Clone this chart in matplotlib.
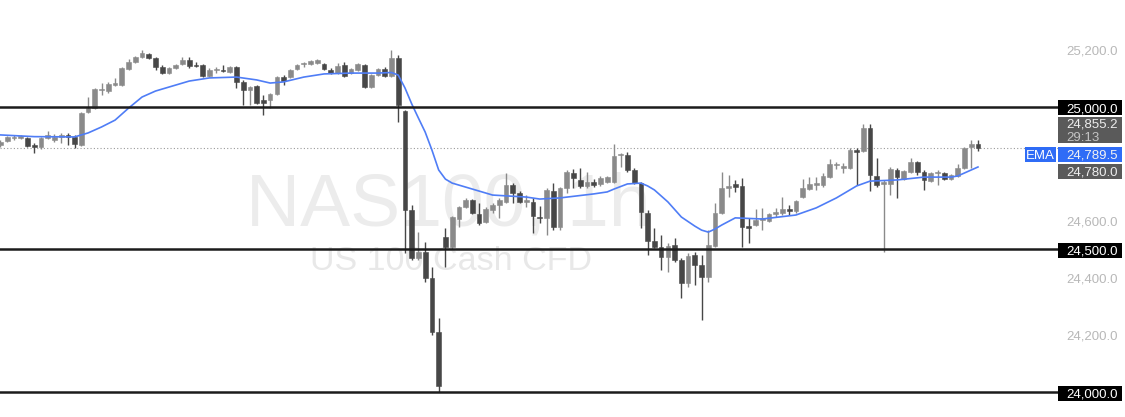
import matplotlib
matplotlib.use("Agg")
import matplotlib.pyplot as plt
from matplotlib.patches import Rectangle

# OHLC, one hourly candle per entry
opens = [24867, 24881, 24891, 24891, 24891, 24867, 24860, 24891, 24884, 24895,
         24902, 24895, 24867, 24982, 24996, 25058, 25056, 25077, 25077, 25133,
         25158, 25175, 25186, 25172, 25140, 25119, 25137, 25151, 25165, 25147,
         25147, 25109, 25130, 25130, 25123, 25140, 25088, 25060, 25074, 25025,
         25025, 25046, 25105, 25105, 25133, 25150, 25151, 25154, 25151, 25130,
         25119, 25147, 25119, 25130, 25147, 25070, 25112, 25133, 25109, 25172,
         24986, 24639, 24470, 24491, 24400, 24210, 24544, 24509, 24607, 24649,
         24674, 24625, 24596, 24639, 24656, 24667, 24726, 24698, 24667, 24667,
         24614, 24611, 24705, 24579, 24716, 24768, 24744, 24723, 24737, 24730,
         24737, 24737, 24830, 24832, 24779, 24733, 24628, 24530, 24509, 24474,
         24516, 24463, 24382, 24481, 24446, 24404, 24512, 24628, 24716, 24730,
         24723, 24582, 24586, 24604, 24600, 24625, 24628, 24642, 24635, 24684,
         24712, 24726, 24726, 24754, 24795, 24786, 24786, 24849, 24846, 24926,
         24758, 24730, 24730, 24779, 24747, 24772, 24807, 24772, 24740, 24768,
         24768, 24747, 24758, 24786, 24860, 24870]
highs = [24884, 24898, 24902, 24902, 24895, 24874, 24895, 24916, 24905, 24909,
         24909, 24902, 24982, 25035, 25067, 25084, 25088, 25102, 25140, 25168,
         25179, 25200, 25189, 25175, 25147, 25140, 25151, 25175, 25175, 25158,
         25151, 25137, 25140, 25147, 25144, 25144, 25095, 25074, 25077, 25042,
         25049, 25109, 25112, 25133, 25151, 25158, 25165, 25168, 25154, 25137,
         25154, 25158, 25137, 25154, 25151, 25116, 25137, 25140, 25200, 25182,
         24990, 24656, 24561, 24526, 24439, 24260, 24575, 24618, 24653, 24681,
         24677, 24663, 24649, 24663, 24681, 24768, 24733, 24705, 24691, 24681,
         24653, 24716, 24733, 24719, 24779, 24782, 24786, 24772, 24747, 24758,
         24758, 24870, 24839, 24842, 24786, 24737, 24639, 24575, 24551, 24523,
         24540, 24470, 24488, 24491, 24481, 24568, 24663, 24772, 24761, 24744,
         24751, 24611, 24642, 24646, 24628, 24646, 24684, 24656, 24674, 24747,
         24754, 24754, 24768, 24818, 24807, 24803, 24856, 24856, 24940, 24940,
         24821, 24744, 24790, 24786, 24779, 24821, 24810, 24779, 24772, 24779,
         24772, 24765, 24800, 24860, 24884, 24884]
lows = [24860, 24877, 24884, 24887, 24860, 24839, 24853, 24887, 24877, 24874,
        24867, 24856, 24863, 24979, 24993, 25042, 25049, 25074, 25074, 25130,
        25154, 25172, 25168, 25130, 25116, 25116, 25133, 25147, 25137, 25140,
        25105, 25105, 25119, 25123, 25119, 25067, 25007, 25007, 25011, 24972,
        24996, 25042, 25077, 25102, 25130, 25140, 25147, 25151, 25130, 25116,
        25116, 25105, 25116, 25126, 25067, 25067, 25109, 25105, 25105, 24947,
        24488, 24463, 24463, 24386, 24200, 24000, 24439, 24502, 24579, 24646,
        24625, 24586, 24593, 24628, 24611, 24663, 24663, 24663, 24649, 24558,
        24593, 24551, 24568, 24568, 24698, 24716, 24716, 24716, 24719, 24723,
        24733, 24733, 24790, 24772, 24730, 24575, 24481, 24505, 24428, 24421,
        24456, 24330, 24368, 24375, 24253, 24386, 24509, 24625, 24684, 24702,
        24509, 24523, 24582, 24568, 24596, 24614, 24621, 24621, 24628, 24681,
        24709, 24709, 24719, 24751, 24782, 24768, 24782, 24726, 24842, 24705,
        24719, 24491, 24691, 24681, 24744, 24768, 24761, 24709, 24737, 24726,
        24744, 24744, 24754, 24782, 24786, 24846]
closes = [24877, 24895, 24895, 24898, 24863, 24860, 24891, 24902, 24895, 24902,
          24895, 24870, 24979, 24996, 25063, 25060, 25081, 25084, 25137, 25158,
          25175, 25189, 25172, 25140, 25119, 25137, 25147, 25165, 25144, 25145,
          25109, 25130, 25131, 25127, 25140, 25088, 25060, 25070, 25014, 25014,
          25046, 25105, 25091, 25130, 25147, 25152, 25161, 25165, 25133, 25119,
          25144, 25109, 25133, 25151, 25070, 25112, 25133, 25109, 25172, 25007,
          24639, 24470, 24491, 24400, 24210, 24021, 24509, 24614, 24649, 24674,
          24628, 24593, 24642, 24656, 24674, 24726, 24698, 24667, 24674, 24618,
          24611, 24709, 24579, 24716, 24772, 24751, 24723, 24737, 24726, 24751,
          24754, 24828, 24832, 24779, 24733, 24632, 24530, 24509, 24474, 24512,
          24463, 24382, 24477, 24446, 24404, 24516, 24628, 24716, 24723, 24719,
          24579, 24575, 24604, 24611, 24625, 24632, 24642, 24635, 24670, 24716,
          24730, 24733, 24758, 24800, 24797, 24793, 24849, 24842, 24926, 24761,
          24726, 24737, 24782, 24754, 24775, 24807, 24772, 24744, 24768, 24770,
          24747, 24761, 24786, 24856, 24870, 24855.2]

# EMA read at a subset of candles
ema_idx = [0, 5, 11, 13, 15, 17, 19, 21, 23, 25, 28, 31, 35, 38, 40, 42, 45, 48,
           52, 56, 58, 59, 60, 61, 62, 63, 64, 65, 66, 67, 70, 73, 78, 80, 83, 88,
           90, 91, 93, 95, 96, 97, 98, 99, 101, 103, 104, 105, 106, 107, 109, 113,
           118, 121, 124, 127, 129, 133, 137, 141, 142, 145]
ema_vals = [24902, 24896, 24895, 24909, 24930, 24954, 24996, 25035, 25056, 25070,
            25091, 25102, 25105, 25095, 25084, 25088, 25105, 25116, 25119, 25119,
            25121, 25112, 25067, 25011, 24961, 24912, 24849, 24779, 24747, 24733,
            24712, 24691, 24684, 24677, 24681, 24695, 24702, 24712, 24730, 24733,
            24723, 24709, 24688, 24667, 24614, 24582, 24568, 24561, 24572, 24586,
            24611, 24607, 24621, 24646, 24681, 24723, 24740, 24744, 24754, 24754,
            24758, 24789.5]

levels = [25000, 24500, 24000]
tick_values = [24200, 24400, 24600, 25200]
last_price = 24855.2
ema_last = 24789.5
other_price = 24780.0
countdown = "29:13"

bull_col = "#8a8a8a"
bear_col = "#474747"
W, H = 1125, 417
AX_W = 1058

fig = plt.figure(figsize=(W / 100, H / 100), dpi=100)
ax = fig.add_axes([0, 0, AX_W / W, 1])
ax.set_xlim(-0.07, 156.87)
ax.set_ylim(23912.3, 25375.4)
for s in ax.spines.values():
    s.set_visible(False)
ax.set_xticks([])

font = "Liberation Sans"
ax.yaxis.tick_right()
ax.set_yticks(tick_values)
ax.set_yticklabels([f"{v:,.1f}" for v in tick_values])
ax.tick_params(axis="y", length=0, pad=6, labelsize=9.5, labelcolor="#b8b8b8")
for lab in ax.get_yticklabels():
    lab.set_fontfamily(font)

# watermark
ax.text(0.424, 0.4604, "NAS100, 1h", transform=ax.transAxes, ha="center",
        va="baseline", fontsize=54, color="#ececec", family=font, zorder=0)
ax.text(0.426, 0.3525, "US 100 Cash CFD", transform=ax.transAxes, ha="center",
        va="baseline", fontsize=24.5, color="#e8e8e8", family=font, zorder=0)

# candles
idx = list(range(len(opens)))
for i in idx:
    o, h, l, c = opens[i], highs[i], lows[i], closes[i]
    col = bull_col if c >= o else bear_col
    ax.vlines(i, l, h, color=col, lw=1.0, zorder=2)
    ax.bar(i, max(abs(c - o), 4), bottom=min(o, c), width=0.7, color=col,
           edgecolor=col, lw=0.4, zorder=2)

ax.plot(ema_idx, ema_vals, color="#4f7df6", lw=1.2, zorder=3)

for lv in levels:
    ax.axhline(lv, color="#1c1c1c", lw=1.8, zorder=4)
ax.axhline(last_price, color="#9a9a9a", lw=0.8, ls=(0, (1, 2)), zorder=1)

# right-hand price tags
ytr = ax.get_yaxis_transform()
upp = (25375.4 - 23912.3) / H  # price units per pixel


def tag(price, text, fc, tc, dy=0.0, hpx=15, x0=AX_W, x1=1122, ha="left"):
    yc = price + dy * upp
    ax.add_patch(Rectangle((x0 / AX_W, yc - hpx / 2 * upp), (x1 - x0) / AX_W,
                           hpx * upp, transform=ytr, fc=fc, ec="none",
                           clip_on=False, zorder=5))
    tx = (x0 + 8) / AX_W if ha == "left" else (x0 + x1) / 2 / AX_W
    ax.text(tx, yc, text, transform=ytr, ha=ha, va="center_baseline",
            fontsize=9.5, color=tc, family=font, zorder=6, clip_on=False)


for lv in levels:
    tag(lv, f"{lv:,.1f}", "#000000", "#ffffff", dy=-1)

# current price + countdown box
yc = last_price + 18.3 * upp
ax.add_patch(Rectangle((AX_W / AX_W, yc - 13 * upp), (1122 - AX_W) / AX_W,
                       26 * upp, transform=ytr, fc="#5a5a5a", ec="none",
                       clip_on=False, zorder=5))
ax.text((AX_W + 8) / AX_W, yc + 6.5 * upp, f"{last_price:,.1f}", transform=ytr,
        ha="left", va="center_baseline", fontsize=9.5, color="#eeeeee",
        family=font, zorder=6, clip_on=False)
ax.text((AX_W + 8) / AX_W, yc - 6.5 * upp, countdown, transform=ytr,
        ha="left", va="center_baseline", fontsize=9.5, color="#c4c4c4",
        family=font, zorder=6, clip_on=False)

tag(ema_last, f"{ema_last:,.1f}", "#2f6cf6", "#f2f2f2", dy=12.8)
tag(ema_last, "EMA", "#2f6cf6", "#ffffff", dy=12.8, x0=1025, x1=1056, ha="center")
tag(other_price, f"{other_price:,.1f}", "#5a5a5a", "#eeeeee", dy=-1.8)

fig.savefig("out.png", dpi=100, facecolor="white")
